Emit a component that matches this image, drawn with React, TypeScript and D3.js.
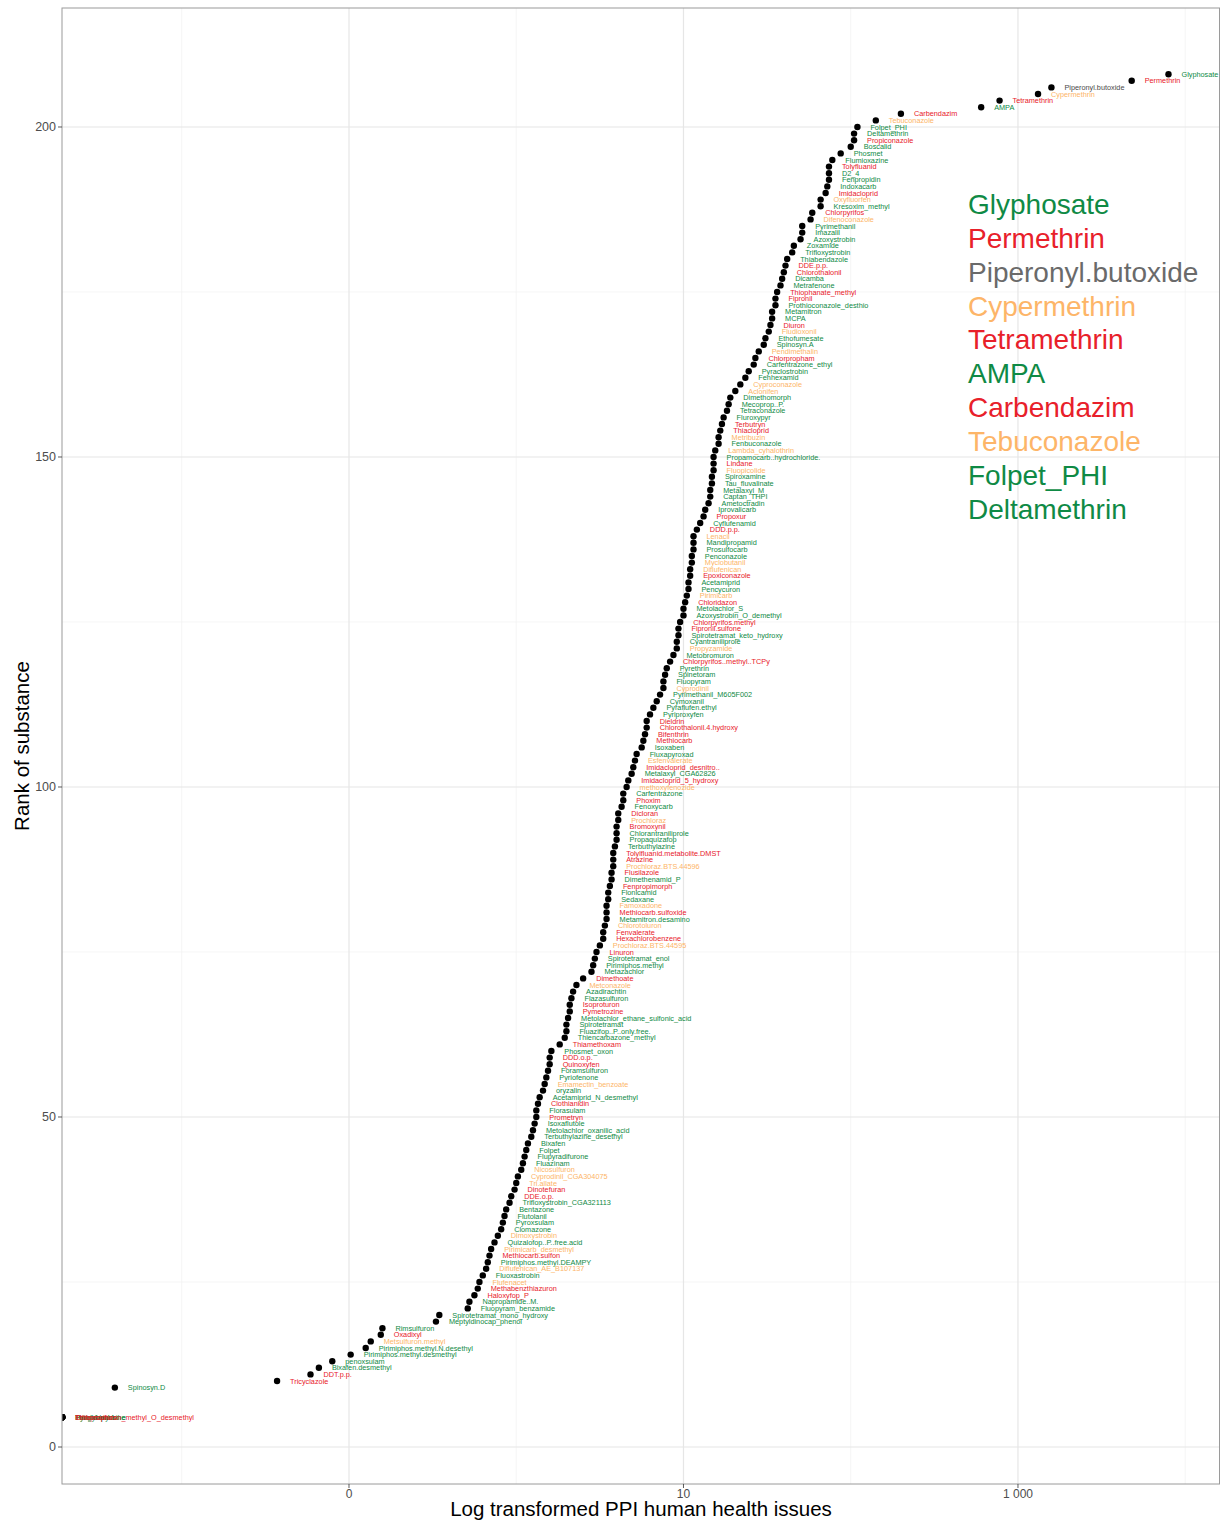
import * as d3 from 'd3';

// substances ordered from highest to lowest score (rank 208 down to the tied bottom group)
const substances = [
  'Glyphosate', 'Permethrin', 'Piperonyl.butoxide', 'Cypermethrin', 'Tetramethrin', 'AMPA', 'Carbendazim', 'Tebuconazole', 'Folpet_PHI', 'Deltamethrin',
  'Propiconazole', 'Boscalid', 'Phosmet', 'Flumioxazine', 'Tolyfluanid', 'D2_4', 'Fenpropidin', 'Indoxacarb', 'Imidacloprid', 'Oxyfluorfen',
  'Kresoxim_methyl', 'Chlorpyrifos', 'Difenoconazole', 'Pyrimethanil', 'Imazalil', 'Azoxystrobin', 'Zoxamide', 'Trifloxystrobin', 'Thiabendazole', 'DDE.p.p.',
  'Chlorothalonil', 'Dicamba', 'Metrafenone', 'Thiophanate_methyl', 'Fipronil', 'Prothioconazole_desthio', 'Metamitron', 'MCPA', 'Diuron', 'Fludioxonil',
  'Ethofumesate', 'Spinosyn.A', 'Pendimethalin', 'Chlorpropham', 'Carfentrazone_ethyl', 'Pyraclostrobin', 'Fenhexamid', 'Cyproconazole', 'Aclonifen', 'Dimethomorph',
  'Mecoprop..P.', 'Tetraconazole', 'Fluroxypyr', 'Terbutryn', 'Thiacloprid', 'Metribuzin', 'Fenbuconazole', 'Lambda_cyhalothrin', 'Propamocarb..hydrochloride.', 'Lindane',
  'Fluopicolide', 'Spiroxamine', 'Tau_fluvalinate', 'Metalaxyl_M', 'Captan_THPI', 'Ametoctradin', 'Iprovalicarb', 'Propoxur', 'Cyflufenamid', 'DDD.p.p.',
  'Lenacil', 'Mandipropamid', 'Prosulfocarb', 'Penconazole', 'Myclobutanil', 'Diflufenican', 'Epoxiconazole', 'Acetamiprid', 'Pencycuron', 'Pirimicarb',
  'Chloridazon', 'Metolachlor_S', 'Azoxystrobin_O_demethyl', 'Chlorpyrifos.methyl', 'Fipronil.sulfone', 'Spirotetramat_keto_hydroxy', 'Cyantraniliprole', 'Propyzamide', 'Metobromuron', 'Chlorpyrifos..methyl..TCPy',
  'Pyrethrin', 'Spinetoram', 'Fluopyram', 'Cyprodinil', 'Pyrimethanil_M605F002', 'Cymoxanil', 'Pyraflufen.ethyl', 'Pyriproxyfen', 'Dieldrin', 'Chlorothalonil.4.hydroxy',
  'Bifenthrin', 'Methiocarb', 'Isoxaben', 'Fluxapyroxad', 'Esfenvalerate', 'Imidacloprid_desnitro..', 'Metalaxyl_CGA62826', 'Imidacloprid_5_hydroxy', 'methoxyfenozide', 'Carfentrazone',
  'Phoxim', 'Fenoxycarb', 'Dicloran', 'Prochloraz', 'Bromoxynil', 'Chlorantraniliprole', 'Propaquizafop', 'Terbuthylazine', 'Tolylfluanid.metabolite.DMST', 'Atrazine',
  'Prochloraz.BTS.44596', 'Flusilazole', 'Dimethenamid_P', 'Fenpropimorph', 'Flonicamid', 'Sedaxane', 'Famoxadone', 'Methiocarb.sulfoxide', 'Metamitron.desamino', 'Chlorotoluron',
  'Fenvalerate', 'Hexachlorobenzene', 'Prochloraz.BTS.44595', 'Linuron', 'Spirotetramat_enol', 'Pirimiphos.methyl', 'Metazachlor', 'Dimethoate', 'Metconazole', 'Azadirachtin',
  'Flazasulfuron', 'Isoproturon', 'Pymetrozine', 'Metolachlor_ethane_sulfonic_acid', 'Spirotetramat', 'Fluazifop..P..only.free.', 'Thiencarbazone_methyl', 'Thiamethoxam', 'Phosmet_oxon', 'DDD.o.p.',
  'Quinoxyfen', 'Foramsulfuron', 'Pyriofenone', 'Emamectin_benzoate', 'oryzalin', 'Acetamiprid_N_desmethyl', 'Clothianidin', 'Florasulam', 'Prometryn', 'Isoxaflutole',
  'Metolachlor_oxanilic_acid', 'Terbuthylazine_desethyl', 'Bixafen', 'Folpet', 'Flupyradifurone', 'Fluazinam', 'Nicosulfuron', 'Cyprodinil_CGA304075', 'Tri.allate', 'Dinotefuran',
  'DDE.o.p.', 'Trifloxystrobin_CGA321113', 'Bentazone', 'Flutolanil', 'Pyroxsulam', 'Clomazone', 'Dimoxystrobin', 'Quizalofop..P..free.acid', 'Pirimicarb_desmethyl', 'Methiocarb.sulfon',
  'Pirimiphos.methyl.DEAMPY', 'Diflufenican_AE_B107137', 'Fluoxastrobin', 'Flufenacet', 'Methabenzthiazuron', 'Haloxyfop_P', 'Napropamide..M.', 'Fluopyram_benzamide', 'Spirotetramat_mono_hydroxy', 'Meptyldinocap_phenol',
  'Rimsulfuron', 'Oxadixyl', 'Metsulfuron.methyl', 'Pirimiphos.methyl.N.desethyl', 'Pirimiphos.methyl.desmethyl', 'penoxsulam', 'Bixafen.desmethyl', 'DDT.p.p.', 'Tricyclazole', 'Spinosyn.D',
  'Cyazofamid', 'Fenpyrazamine', 'Flurochloridone', 'Pyridaben', 'Proquinazid', 'Tebufenpyrad', 'Ethoprophos', 'Thifensulfuron_methyl_O_desmethyl',
];

// log10 of the PPI human health score
const logScores = [
  3.90, 3.68, 3.20, 3.12, 2.89, 2.78, 2.30, 2.15, 2.04, 2.02,
  2.02, 2.00, 1.94, 1.89, 1.87, 1.87, 1.87, 1.86, 1.85, 1.82,
  1.82, 1.77, 1.76, 1.71, 1.71, 1.70, 1.66, 1.65, 1.62, 1.61,
  1.60, 1.59, 1.58, 1.56, 1.55, 1.55, 1.53, 1.53, 1.52, 1.51,
  1.49, 1.48, 1.45, 1.43, 1.42, 1.39, 1.37, 1.34, 1.31, 1.28,
  1.27, 1.26, 1.24, 1.23, 1.22, 1.21, 1.21, 1.19, 1.18, 1.18,
  1.18, 1.17, 1.17, 1.16, 1.16, 1.15, 1.13, 1.12, 1.10, 1.08,
  1.06, 1.06, 1.06, 1.05, 1.05, 1.04, 1.04, 1.03, 1.03, 1.02,
  1.01, 1.00, 1.00, 0.98, 0.97, 0.97, 0.96, 0.96, 0.94, 0.92,
  0.90, 0.89, 0.88, 0.88, 0.86, 0.84, 0.82, 0.80, 0.78, 0.78,
  0.77, 0.76, 0.75, 0.72, 0.71, 0.70, 0.69, 0.67, 0.66, 0.64,
  0.64, 0.63, 0.61, 0.61, 0.60, 0.60, 0.60, 0.59, 0.58, 0.58,
  0.58, 0.57, 0.57, 0.56, 0.55, 0.55, 0.54, 0.54, 0.54, 0.53,
  0.52, 0.52, 0.50, 0.48, 0.47, 0.46, 0.45, 0.40, 0.36, 0.34,
  0.33, 0.32, 0.32, 0.31, 0.30, 0.30, 0.29, 0.26, 0.21, 0.20,
  0.20, 0.19, 0.18, 0.17, 0.16, 0.14, 0.13, 0.12, 0.12, 0.11,
  0.10, 0.09, 0.07, 0.06, 0.05, 0.04, 0.03, 0.01, 0.00, -0.01,
  -0.03, -0.04, -0.06, -0.07, -0.08, -0.09, -0.11, -0.13, -0.15, -0.16,
  -0.17, -0.18, -0.20, -0.22, -0.23, -0.25, -0.28, -0.29, -0.46, -0.48,
  -0.80, -0.81, -0.87, -0.90, -0.99, -1.10, -1.18, -1.23, -1.43, -2.40,
  -2.715, -2.715, -2.715, -2.715, -2.715, -2.715, -2.715, -2.715,
];

// label colour group: g = green, r = red, o = orange, k = grey
const groups = [
  'g', 'r', 'k', 'o', 'r', 'g', 'r', 'o', 'g', 'g',
  'r', 'g', 'g', 'g', 'r', 'g', 'g', 'g', 'r', 'o',
  'g', 'r', 'o', 'g', 'g', 'g', 'g', 'g', 'g', 'r',
  'r', 'g', 'g', 'r', 'r', 'g', 'g', 'g', 'r', 'o',
  'g', 'g', 'o', 'r', 'g', 'g', 'g', 'o', 'o', 'g',
  'g', 'g', 'g', 'r', 'r', 'o', 'g', 'o', 'g', 'r',
  'o', 'g', 'g', 'g', 'g', 'g', 'g', 'r', 'g', 'r',
  'o', 'g', 'g', 'g', 'o', 'o', 'r', 'g', 'g', 'o',
  'r', 'g', 'g', 'r', 'r', 'g', 'g', 'o', 'g', 'r',
  'g', 'g', 'g', 'o', 'g', 'g', 'g', 'g', 'r', 'r',
  'r', 'r', 'g', 'g', 'o', 'r', 'g', 'r', 'o', 'g',
  'r', 'g', 'r', 'o', 'r', 'g', 'g', 'g', 'r', 'r',
  'o', 'r', 'g', 'r', 'g', 'g', 'o', 'r', 'g', 'o',
  'r', 'r', 'o', 'r', 'g', 'g', 'g', 'r', 'o', 'g',
  'g', 'r', 'r', 'g', 'g', 'g', 'g', 'r', 'g', 'r',
  'r', 'g', 'g', 'o', 'g', 'g', 'r', 'g', 'r', 'g',
  'g', 'g', 'g', 'g', 'g', 'g', 'o', 'o', 'o', 'r',
  'r', 'g', 'g', 'g', 'g', 'g', 'o', 'g', 'o', 'r',
  'g', 'o', 'g', 'o', 'r', 'r', 'g', 'g', 'g', 'g',
  'g', 'r', 'o', 'g', 'g', 'g', 'g', 'r', 'r', 'g',
  'o', 'g', 'g', 'g', 'g', 'g', 'r', 'r',
];

const legendItems = [
  'Glyphosate', 'Permethrin', 'Piperonyl.butoxide', 'Cypermethrin', 'Tetramethrin',
  'AMPA', 'Carbendazim', 'Tebuconazole', 'Folpet_PHI', 'Deltamethrin',
];
const legendGroups = ['g', 'r', 'k', 'o', 'r', 'g', 'r', 'o', 'g', 'g'];

const rankBreaks = [0, 50, 100, 150, 200];
const rankMinor = [25, 75, 125, 175];
const scoreBreaks = [-1, 1, 3];
const scoreBreakLabels = ['0', '10', '1 000'];
const scoreMinor = [-2, 0, 2, 4];

const palette: Record<string, string> = {
  g: '#0f8a45',
  r: '#e8202a',
  o: '#fdb568',
  k: '#4a4a4a',
};
const legendPalette: Record<string, string> = { ...palette, k: '#6a6a6a' };

const W = 1220;
const H = 1520;
const panel = { left: 62, right: 1220, top: 8, bottom: 1484 };
const font = '"Liberation Sans", Arial, Helvetica, sans-serif';

export default function App() {
  const n = logScores.length;
  const minScore = d3.min(logScores)!;
  const tied = logScores.filter((v) => v === minScore).length;
  const tieRank = (tied + 1) / 2;
  const points = substances.map((name, i) => ({
    name,
    score: logScores[i],
    group: groups[i],
    rank: logScores[i] === minScore ? tieRank : n - i,
  }));

  const x = d3.scaleLinear().domain([-2.716, 4.208]).range([panel.left, panel.right]);
  const y = d3.scaleLinear().domain([-5.606, 218.03]).range([panel.bottom, panel.top]);

  return (
    <div style={{ position: 'absolute', left: 0, top: 0 }}>
      <svg width={W} height={H} style={{ display: 'block' }} fontFamily={font}>
        <defs>
          <clipPath id="panel-clip">
            <rect x={panel.left} y={panel.top} width={panel.right - panel.left} height={panel.bottom - panel.top} />
          </clipPath>
        </defs>
        <rect width={W} height={H} fill="white" />

        {/* grid */}
        <g>
          {rankMinor.map((r) => (
            <line key={'ym' + r} x1={panel.left} x2={panel.right} y1={y(r)} y2={y(r)} stroke="#f0f0f0" strokeWidth={0.7} />
          ))}
          {scoreMinor.map((s) => (
            <line key={'xm' + s} x1={x(s)} x2={x(s)} y1={panel.top} y2={panel.bottom} stroke="#f0f0f0" strokeWidth={0.7} />
          ))}
          {rankBreaks.map((r) => (
            <line key={'y' + r} x1={panel.left} x2={panel.right} y1={y(r)} y2={y(r)} stroke="#e6e6e6" strokeWidth={1.2} />
          ))}
          {scoreBreaks.map((s) => (
            <line key={'x' + s} x1={x(s)} x2={x(s)} y1={panel.top} y2={panel.bottom} stroke="#e6e6e6" strokeWidth={1.2} />
          ))}
        </g>

        {/* points */}
        <g clipPath="url(#panel-clip)">
          {points.map((p) => (
            <circle key={p.name} cx={x(p.score)} cy={y(p.rank)} r={3.2} fill="black" />
          ))}
        </g>

        {/* labels */}
        <g fontSize={7.3}>
          {points.map((p) => (
            <text key={p.name} x={x(p.score) + 13} y={y(p.rank)} dy="0.35em" fill={palette[p.group]}>
              {p.name}
            </text>
          ))}
        </g>

        {/* panel border */}
        <rect
          x={panel.left}
          y={panel.top}
          width={panel.right - panel.left - 0.5}
          height={panel.bottom - panel.top}
          fill="none"
          stroke="#9a9a9a"
          strokeWidth={1}
        />

        {/* y axis */}
        <g fontSize={12.5} fill="#4d4d4d">
          {rankBreaks.map((r) => (
            <g key={'yt' + r}>
              <line x1={panel.left - 4} x2={panel.left} y1={y(r)} y2={y(r)} stroke="#333" strokeWidth={0.8} />
              <text x={panel.left - 6} y={y(r)} dy="0.35em" textAnchor="end">
                {r}
              </text>
            </g>
          ))}
        </g>

        {/* x axis */}
        <g fontSize={12} fill="#4d4d4d">
          {scoreBreaks.map((s, i) => (
            <g key={'xt' + s}>
              <line x1={x(s)} x2={x(s)} y1={panel.bottom} y2={panel.bottom + 4} stroke="#333" strokeWidth={0.8} />
              <text x={x(s)} y={panel.bottom + 14} textAnchor="middle">
                {scoreBreakLabels[i]}
              </text>
            </g>
          ))}
        </g>

        {/* axis titles */}
        <text x={(panel.left + panel.right) / 2} y={1516} textAnchor="middle" fontSize={20.5} fill="black">
          Log transformed PPI human health issues
        </text>
        <text
          transform={`translate(29,${(panel.top + panel.bottom) / 2}) rotate(-90)`}
          textAnchor="middle"
          fontSize={20.5}
          fill="black"
        >
          Rank of substance
        </text>

        {/* top ten list */}
        <g fontSize={28}>
          {legendItems.map((name, i) => (
            <text key={name} x={968} y={204 + i * 33.9} dy="0.35em" fill={legendPalette[legendGroups[i]]}>
              {name}
            </text>
          ))}
        </g>
      </svg>
    </div>
  );
}
